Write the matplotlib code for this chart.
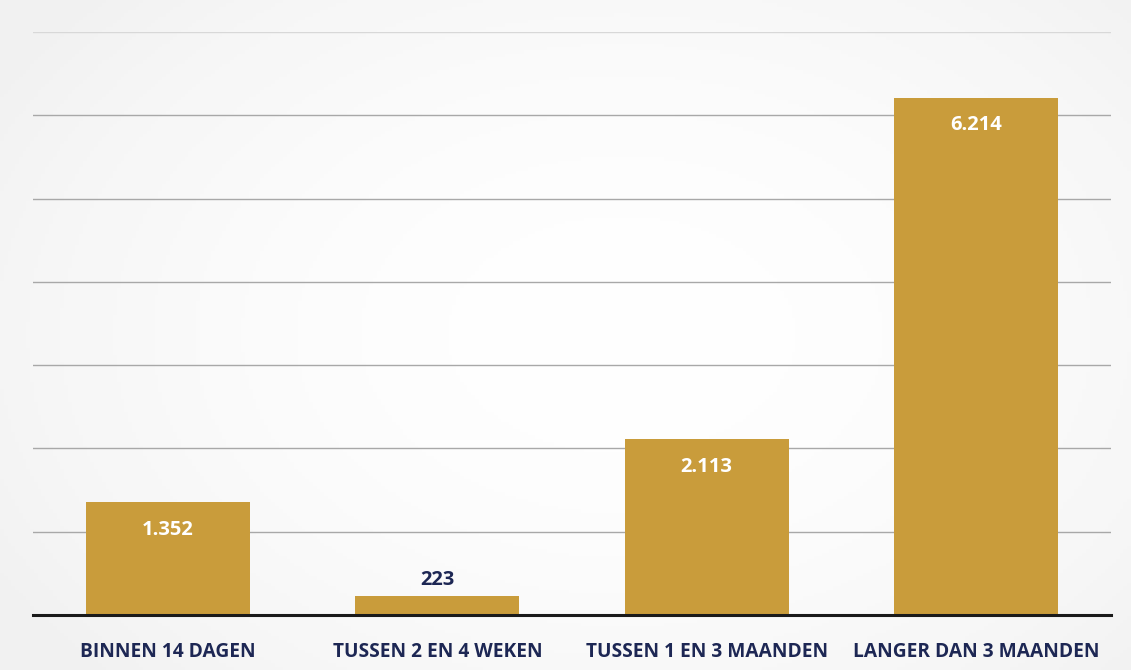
import numpy as np
import matplotlib.pyplot as plt

# data
categories = ['BINNEN 14 DAGEN', 'TUSSEN 2 EN 4 WEKEN', 'TUSSEN 1 EN 3 MAANDEN', 'LANGER DAN 3 MAANDEN']
values = [1352, 223, 2113, 6214]
value_labels = ['1.352', '223', '2.113', '6.214']

bar_color = '#c99c3b'
navy = '#1d2754'

plt.rcParams['font.family'] = ['Open Sans', 'DejaVu Sans']

fig = plt.figure(figsize=(11.31, 6.70), dpi=100)
fig.patch.set_facecolor('#f3f3f3')

# soft light background like the photo: white centre, greyer edges
bg = fig.add_axes([0, 0, 1, 1], zorder=-1)
yy, xx = np.mgrid[0:1:200j, 0:1:300j]
dist = np.sqrt(((xx - 0.55) / 0.65) ** 2 + ((yy - 0.5) / 0.75) ** 2)
bg.imshow(np.clip(dist, 0, 1) ** 2, cmap='Greys', vmin=-0.05, vmax=9, aspect='auto',
          extent=[0, 1, 0, 1])
bg.axis('off')

ax = fig.add_axes([0.0296, 0.0821, 0.9523, 0.870])
ax.patch.set_alpha(0)

x = np.arange(len(categories))
bars = ax.bar(x, values, width=0.61, color=bar_color, zorder=2)

ax.set_xlim(-0.5, 3.5)
ax.set_ylim(0, 7000)
ax.set_yticks(range(1000, 7001, 1000))
ax.yaxis.grid(True, color='#a8a8a8', linewidth=1.0, zorder=0)
gl = ax.get_ygridlines()
gl[-1].set_color('#d8d8d8')
ax.tick_params(axis='y', left=False, labelleft=False)
ax.tick_params(axis='x', bottom=False, pad=16)
ax.set_xticks(x)
ax.set_xticklabels(categories, fontsize=13.8, fontweight='bold', color=navy)

for s in ['top', 'right', 'left']:
    ax.spines[s].set_visible(False)
ax.spines['bottom'].set_color('#1a1a1a')
ax.spines['bottom'].set_linewidth(2.2)
ax.spines['bottom'].set_zorder(3)

# value labels
for i, (v, lab) in enumerate(zip(values, value_labels)):
    if v > 1000:
        ax.annotate(lab, (i, v), xytext=(0, -20), textcoords='offset points',
                    ha='center', va='center', color='white', fontsize=14.5,
                    fontweight='bold')
    else:
        ax.annotate(lab, (i, v), xytext=(0, 12), textcoords='offset points',
                    ha='center', va='center', color=navy, fontsize=14.5,
                    fontweight='bold')

plt.savefig('out.png', dpi=100)
